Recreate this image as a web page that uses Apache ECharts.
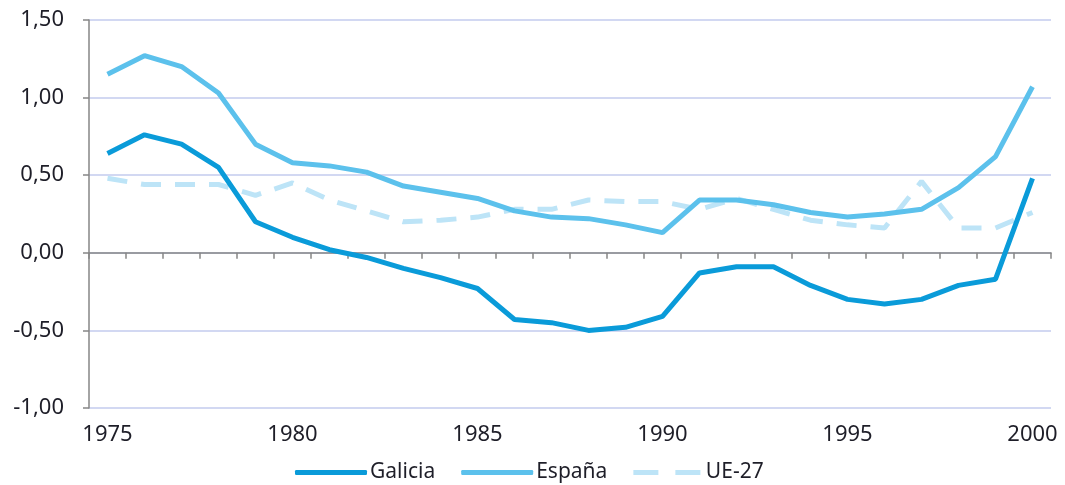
<!DOCTYPE html>
<html>
<head>
<meta charset="utf-8">
<script src="https://cdn.jsdelivr.net/npm/echarts@6/dist/echarts.min.js"></script>
<style>
  html, body { margin: 0; padding: 0; background: #fff; }
  #chart { width: 1065px; height: 485px; }
</style>
</head>
<body>
<div id="chart"></div>
<script>
// years on the x axis
const years = [];
for (let y = 1975; y <= 2000; y++) years.push(String(y));

const galicia = [0.64, 0.76, 0.70, 0.55, 0.20, 0.10, 0.02, -0.03, -0.10, -0.16, -0.23,
  -0.43, -0.45, -0.50, -0.48, -0.41, -0.13, -0.09, -0.09, -0.21, -0.30, -0.33, -0.30,
  -0.21, -0.17, 0.48];
const espana = [1.15, 1.27, 1.20, 1.03, 0.70, 0.58, 0.56, 0.52, 0.43, 0.39, 0.35,
  0.27, 0.23, 0.22, 0.18, 0.13, 0.34, 0.34, 0.31, 0.26, 0.23, 0.25, 0.28, 0.42, 0.62, 1.07];
const ue27 = [0.48, 0.44, 0.44, 0.44, 0.37, 0.45, 0.34, 0.27, 0.20, 0.21, 0.23,
  0.28, 0.28, 0.34, 0.33, 0.33, 0.28, 0.35, 0.28, 0.21, 0.18, 0.16, 0.46, 0.16, 0.16, 0.26];

const fmt = (v) => v.toFixed(2).replace(".", ",");
const font = "Noto Sans";
const textColor = "#1e1e28";

const chart = echarts.init(document.getElementById("chart"));
const option = {
  animation: false,
  grid: { left: 89, right: 14, top: 20, bottom: 77 },
  legend: {
    top: 457,
    left: 290,
    itemWidth: 72,
    itemHeight: 5,
    itemGap: 26,
    textStyle: { fontFamily: font, fontSize: 21, color: textColor, padding: [0, 0, 0, -2] },
    data: [
      { name: "Galicia", icon: "roundRect" },
      { name: "España", icon: "roundRect" },
      { name: "UE-27", icon: "path://M0,0h25v5h-25z M42,0h25v5h-25z" },
    ],
  },
  xAxis: [
    {
      // labels along the bottom
      type: "category",
      data: years,
      position: "bottom",
      boundaryGap: true,
      axisLine: { show: false, onZero: false },
      axisTick: { show: false },
      axisLabel: {
        interval: 4,
        fontFamily: font,
        fontSize: 22,
        color: textColor,
        margin: 16,
      },
    },
    {
      // the zero line with its tick marks
      type: "category",
      data: years,
      position: "bottom",
      boundaryGap: true,
      axisLine: { show: true, onZero: true, lineStyle: { color: "#868686", width: 1.5 } },
      axisTick: { show: true, length: 6, lineStyle: { color: "#868686", width: 1.5 } },
      axisLabel: { show: false },
    },
  ],
  yAxis: {
    type: "value",
    min: -1,
    max: 1.5,
    interval: 0.5,
    axisLine: { show: true, lineStyle: { color: "#868686", width: 1.5 } },
    axisTick: { show: true, length: 6, lineStyle: { color: "#868686", width: 1.5 } },
    axisLabel: {
      formatter: fmt,
      fontFamily: font,
      fontSize: 22,
      color: textColor,
      margin: 25,
    },
    splitLine: { lineStyle: { color: "#c3cbee", width: 1.5 } },
  },
  series: [
    {
      name: "UE-27",
      type: "line",
      xAxisIndex: 0,
      data: ue27,
      symbol: "none",
      color: "#bde4f7",
      lineStyle: { width: 5, type: [20, 14] },
      z: 1,
    },
    {
      name: "España",
      type: "line",
      xAxisIndex: 0,
      data: espana,
      symbol: "none",
      color: "#5cc1ec",
      lineStyle: { width: 5 },
      z: 2,
    },
    {
      name: "Galicia",
      type: "line",
      xAxisIndex: 0,
      data: galicia,
      symbol: "none",
      color: "#0a9bd9",
      lineStyle: { width: 5 },
      z: 3,
    },
  ],
};
chart.setOption(option);
</script>
</body>
</html>
